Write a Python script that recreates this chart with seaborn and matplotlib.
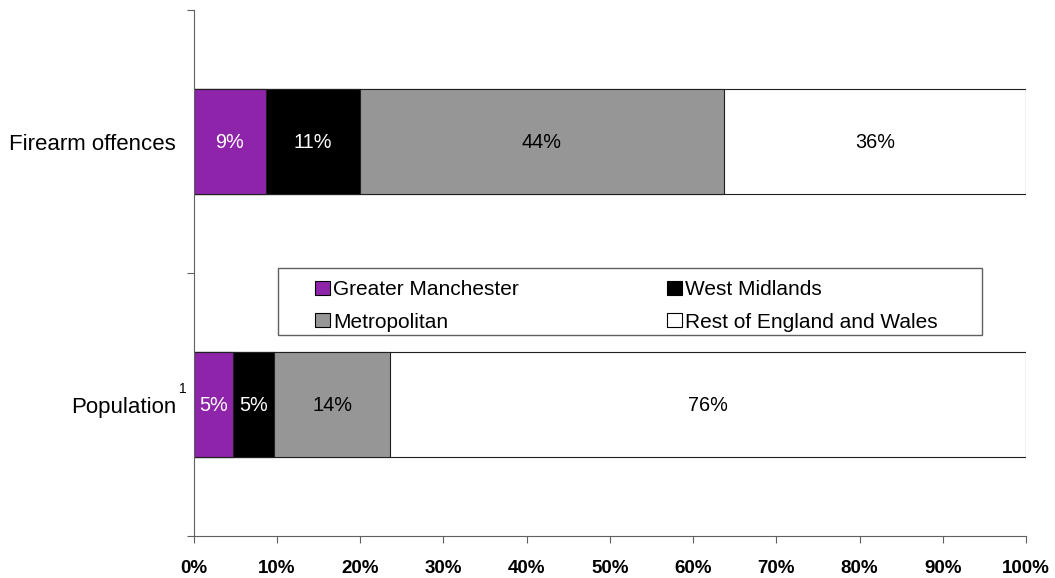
import numpy as np
import matplotlib
matplotlib.use("Agg")
import matplotlib.pyplot as plt
from matplotlib.patches import Patch, Rectangle
import seaborn as sns
import pandas as pd

# data (percent of total)
categories = ["Firearm offences", "Population"]
series_names = ["Greater Manchester", "West Midlands", "Metropolitan", "Rest of England and Wales"]
greater_manchester = [8.7, 4.8]
west_midlands = [11.3, 4.9]
metropolitan = [43.7, 13.9]
rest_of_england = [36.3, 76.4]
x_ticks = [0, 10, 20, 30, 40, 50, 60, 70, 80, 90, 100]

colours = ["#8e24aa", "#000000", "#969696", "#ffffff"]
label_colours = ["white", "white", "black", "black"]

sns.set_theme(style="white", rc={"text.color": "black", "xtick.labelcolor": "black",
                                 "ytick.labelcolor": "black"})
plt.rcParams["font.family"] = ["Liberation Sans", "DejaVu Sans"]

values = np.array([greater_manchester, west_midlands, metropolitan, rest_of_england])
cum = values.cumsum(axis=0)

fig = plt.figure(figsize=(10.55, 5.78), dpi=100)
ax = fig.add_axes([193.5 / 1055, 1 - 536 / 578, (1026 - 193.5) / 1055, (536 - 10) / 578])

# stacked bars: draw cumulative totals from the widest layer down
for i in reversed(range(len(series_names))):
    df = pd.DataFrame({"category": categories, "value": cum[i]})
    sns.barplot(data=df, x="value", y="category", orient="h", color=colours[i],
                saturation=1, width=0.4, edgecolor="#202020", linewidth=0.8, ax=ax)

# segment labels
for i in range(len(series_names)):
    for j, cat in enumerate(categories):
        centre = cum[i][j] - values[i][j] / 2
        ax.text(centre, j + 0.005, f"{values[i][j]:.0f}%", ha="center", va="center",
                fontsize=14.3, color=label_colours[i])

ax.set_xlim(0, 100)
ax.set_ylim(1.5, -0.5)
ax.set_xlabel("")
ax.set_ylabel("")
ax.set_xticks(x_ticks)
ax.set_xticklabels([f"{t}%" for t in x_ticks], fontsize=13.5, fontweight="bold", color="black")
ax.set_yticks([0, 1])
ax.set_yticklabels(categories, fontsize=16, color="black")
ax.set_yticks([-0.5, 0.5, 1.5], minor=True)
ax.tick_params(axis="y", which="major", length=0, pad=12.6)
ax.tick_params(axis="y", which="minor", length=5, width=0.8, direction="out", color="#606060", left=True)
ax.tick_params(axis="x", length=5, width=0.8, direction="out", color="#606060", pad=12, bottom=True)

for s in ["top", "right"]:
    ax.spines[s].set_visible(False)
for s in ["left", "bottom"]:
    ax.spines[s].set_color("#606060")
    ax.spines[s].set_linewidth(0.8)

# superscript footnote marker on Population
ax.annotate("1", xy=(0, 1), xycoords=ax.get_yaxis_transform(), xytext=(-7.5, 11),
            textcoords="offset points", ha="center", va="center", fontsize=10, color="black")

# legend
handles = [Patch(facecolor=c, edgecolor="black", linewidth=0.8) for c in colours]
order = [0, 2, 1, 3]
fig.legend([handles[k] for k in order], [series_names[k] for k in order],
           loc="upper left", bbox_to_anchor=(305 / 1055, 1 - 270 / 578), ncol=2,
           frameon=False, borderpad=0, fontsize=15, handlelength=0.7, handleheight=0.65,
           handletextpad=0.15, columnspacing=7.13, labelspacing=0.64, labelcolor="black")
fig.patches.append(Rectangle((278 / 1055, 1 - 335 / 578), 704 / 1055, 67 / 578,
                             transform=fig.transFigure, fill=False, edgecolor="#606060", lw=1))

fig.savefig("out.png", dpi=100)
